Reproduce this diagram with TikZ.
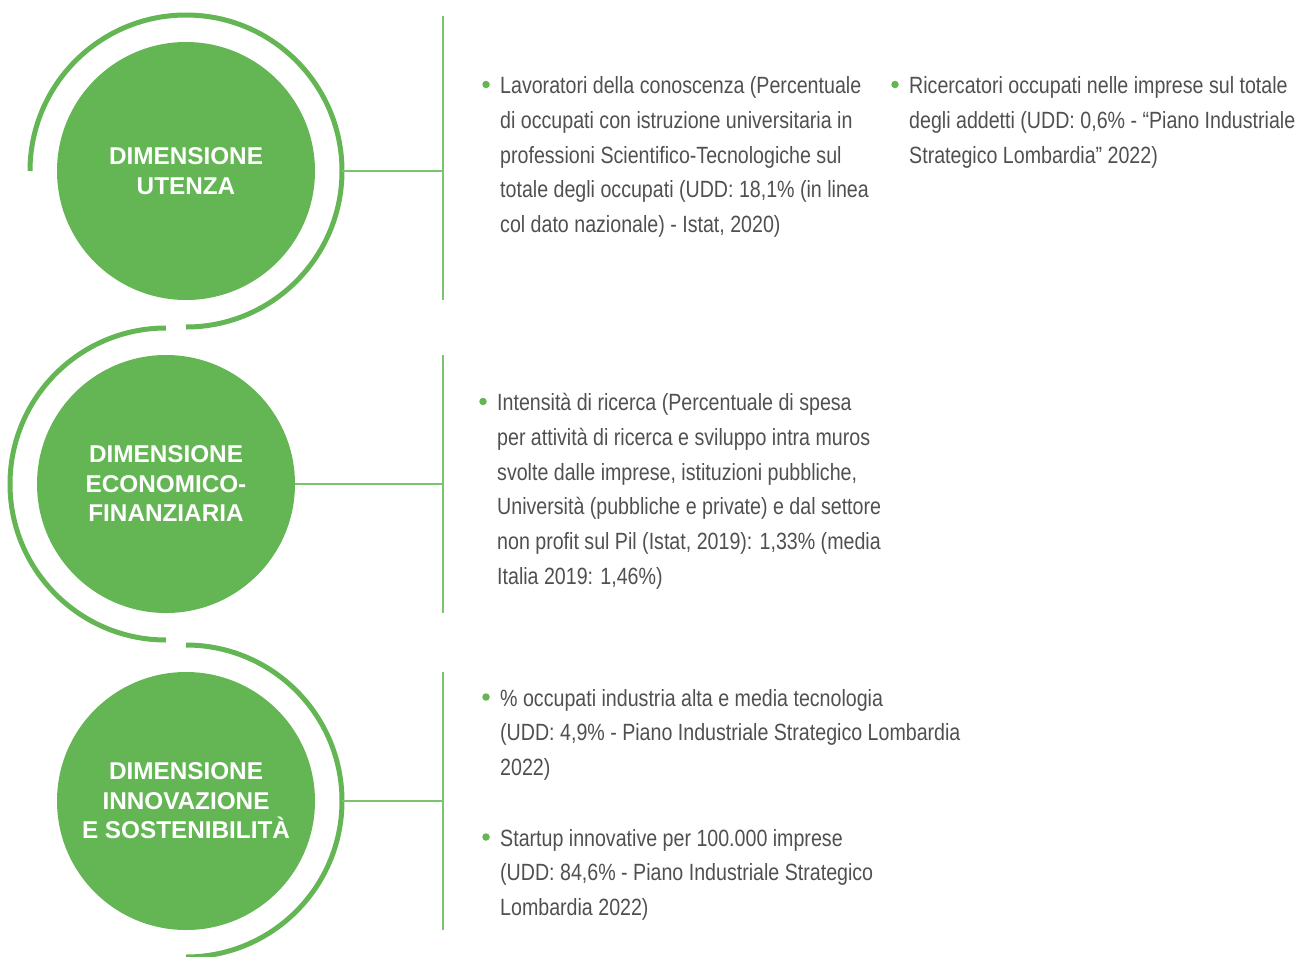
\documentclass[tikz,border=0pt]{standalone}
\usepackage{fontspec}
\setmainfont{Liberation Sans}
\newfontfamily\condlight[FakeStretch=0.835]{Liberation Sans}
\usetikzlibrary{positioning}

\definecolor{dimgreen}{HTML}{64B553}
\definecolor{linkgreen}{HTML}{7DC36E}
\definecolor{textgray}{HTML}{505050}

\begin{document}
\begin{tikzpicture}[x=1pt,y=1pt]

	\tikzstyle dimension circle=[circle, fill=dimgreen, minimum size=258pt, inner sep=0pt, text=white, align=center, font=\bfseries\fontsize{24.3}{29.5}\selectfont];
	\tikzstyle outer arcs=[draw=dimgreen, line width=5pt];
	\tikzstyle link lines=[draw=linkgreen, line width=1.5pt];
	\tikzstyle indicator text=[anchor=north west, inner sep=0pt, align=left, text=textgray, font=\condlight\fontsize{23.5}{34.8}\selectfont];
	\tikzstyle bullet dot=[circle, fill=dimgreen, minimum size=7.5pt, inner sep=0pt];

	\useasboundingbox (0,0) rectangle (1314,-956);

	% the three dimensions
	\node[dimension circle] (utenza) at (186,-171) {DIMENSIONE\\UTENZA};
	\node[dimension circle] (economia) at (166,-484) {DIMENSIONE\\ECONOMICO-\\FINANZIARIA};
	\node[dimension circle] (innovazione) at (186,-801) {DIMENSIONE\\INNOVAZIONE\\E SOSTENIBILITÀ};

	\draw[outer arcs] (utenza.center) ++(180:156) arc[start angle=180, end angle=-90, radius=156];
	\draw[outer arcs] (economia.center) ++(90:156) arc[start angle=90, end angle=270, radius=156];
	\draw[outer arcs] (innovazione.center) ++(90:156) arc[start angle=90, end angle=-90, radius=156];

	\coordinate (utenza arc) at ([xshift=156pt]utenza.center);
	\coordinate (innovazione arc) at ([xshift=156pt]innovazione.center);

	% vertical brackets
	\coordinate (top1) at (443,-16);	\coordinate (bot1) at (443,-300);
	\coordinate (top2) at (443,-355);	\coordinate (bot2) at (443,-613);
	\coordinate (top3) at (443,-672);	\coordinate (bot3) at (443,-930);
		\foreach \i in {1,2,3}
			\draw[link lines] (top\i) -- (bot\i);

	\draw[link lines] (utenza arc) -- (utenza arc -| top1);
	\draw[link lines] (economia.east) -- (economia.east -| top2);
	\draw[link lines] (innovazione arc) -- (innovazione arc -| top3);

	% indicators (top of first strut = baseline + 24.4)
	\node[indicator text] (lavoratori) at (500,-69) {\strut Lavoratori della conoscenza (Percentuale\\di occupati con istruzione universitaria in\\professioni Scientifico-Tecnologiche sul\\totale degli occupati (UDD: 18,1\% (in linea\\col dato nazionale) - Istat, 2020)};
	\node[indicator text] (ricercatori) at (909,-69) {\strut Ricercatori occupati nelle imprese sul totale\\degli addetti (UDD: 0,6\% - “Piano Industriale\\Strategico Lombardia” 2022)};
	\node[indicator text] (intensita) at (497,-386) {\strut Intensità di ricerca (Percentuale di spesa\\per attività di ricerca e sviluppo intra muros\\svolte dalle imprese, istituzioni pubbliche,\\Università (pubbliche e private) e dal settore\\non profit sul Pil (Istat, 2019): 1,33\% (media\\Italia 2019: 1,46\%)};
	\node[indicator text] (occupati) at (500,-681.5) {\strut\% occupati industria alta e media tecnologia\\(UDD: 4,9\% - Piano Industriale Strategico Lombardia\\2022)};
	\node[indicator text] (startup) at (500,-821.5) {\strut Startup innovative per 100.000 imprese\\(UDD: 84,6\% - Piano Industriale Strategico\\Lombardia 2022)};

		\foreach \blk in {lavoratori,ricercatori,intensita,occupati,startup}
			\node[bullet dot] (dot \blk) at ([xshift=-14pt,yshift=-15.5pt]\blk.north west) {};

\end{tikzpicture}
\end{document}
